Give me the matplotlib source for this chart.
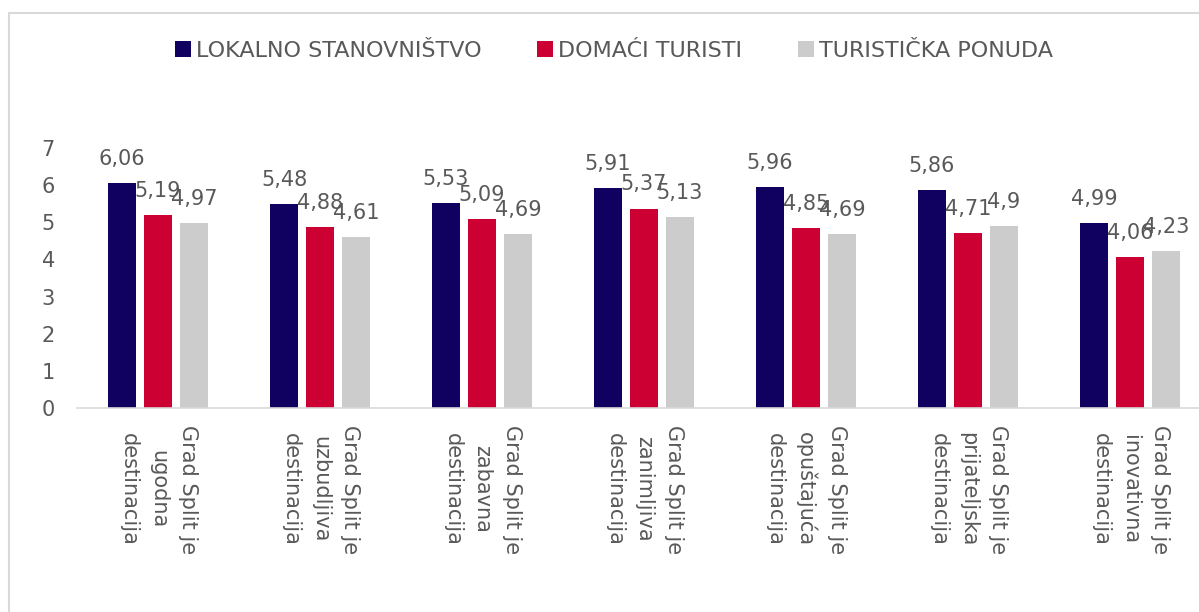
import matplotlib
matplotlib.use("Agg")
import matplotlib.pyplot as plt
import numpy as np
from matplotlib.patches import Rectangle, Patch

categories = [
    "Grad Split je\nugodna\ndestinacija",
    "Grad Split je\nuzbudljiva\ndestinacija",
    "Grad Split je\nzabavna\ndestinacija",
    "Grad Split je\nzanimljiva\ndestinacija",
    "Grad Split je\nopuštajuća\ndestinacija",
    "Grad Split je\nprijateljska\ndestinacija",
    "Grad Split je\ninovativna\ndestinacija",
]
series_names = ["LOKALNO STANOVNIŠTVO", "DOMAĆI TURISTI", "TURISTIČKA PONUDA"]
lokalno = [6.06, 5.48, 5.53, 5.91, 5.96, 5.86, 4.99]
domaci = [5.19, 4.88, 5.09, 5.37, 4.85, 4.71, 4.06]
ponuda = [4.97, 4.61, 4.69, 5.13, 4.69, 4.9, 4.23]
yticks = [0, 1, 2, 3, 4, 5, 6, 7]

colors = ["#10005F", "#CC0033", "#CCCCCC"]
txt = "#595959"
fs = 15

W, H = 1199, 612
fig = plt.figure(figsize=(W / 100, H / 100), dpi=100)
ax = fig.add_axes([77 / W, 1 - 408 / H, 1134 / W, 260 / H])

x = np.arange(len(categories))
bw = 0.173
step = 0.222
for i, (vals, c) in enumerate(zip([lokalno, domaci, ponuda], colors)):
    pos = x + (i - 1) * step
    ax.bar(pos, vals, width=bw, color=c, zorder=2)
    for p, v in zip(pos, vals):
        lab = ("%g" % v).replace(".", ",")
        ax.annotate(lab, (p, v), xytext=(0, 13), textcoords="offset points",
                    ha="center", va="baseline", fontsize=fs, color=txt, zorder=3)

ax.set_xlim(-0.5, len(categories) - 0.5)
ax.set_ylim(0, 7)
ax.set_yticks(yticks)
ax.set_yticklabels([str(t) for t in yticks], fontsize=fs, color=txt)
ax.set_xticks(x)
ax.set_xticklabels(categories, rotation=-90, ha="center", va="top",
                   multialignment="center", fontsize=fs, color=txt, linespacing=1.6)
ax.tick_params(axis="y", length=0, pad=16)
ax.tick_params(axis="x", length=0, pad=12)
for s in ["left", "right", "top"]:
    ax.spines[s].set_visible(False)
ax.spines["bottom"].set_color("#D9D9D9")
ax.spines["bottom"].set_linewidth(1.2)
ax.set_facecolor("none")

handles = [Patch(facecolor=c, edgecolor="none") for c in colors]
leg = fig.legend(handles, series_names, loc="center", bbox_to_anchor=(614 / W, 1 - 51 / H),
                 ncol=3, frameon=False, fontsize=16, handlelength=0.72, handleheight=0.72,
                 handletextpad=0.23, columnspacing=2.5)
for t in leg.get_texts():
    t.set_color(txt)

fig.patches.append(Rectangle((9 / W, -0.1), 1.2, 1 - 12.5 / H + 0.1, transform=fig.transFigure,
                             fill=False, edgecolor="#D9D9D9", linewidth=1.5, zorder=0))

fig.savefig("out.png", dpi=100)
